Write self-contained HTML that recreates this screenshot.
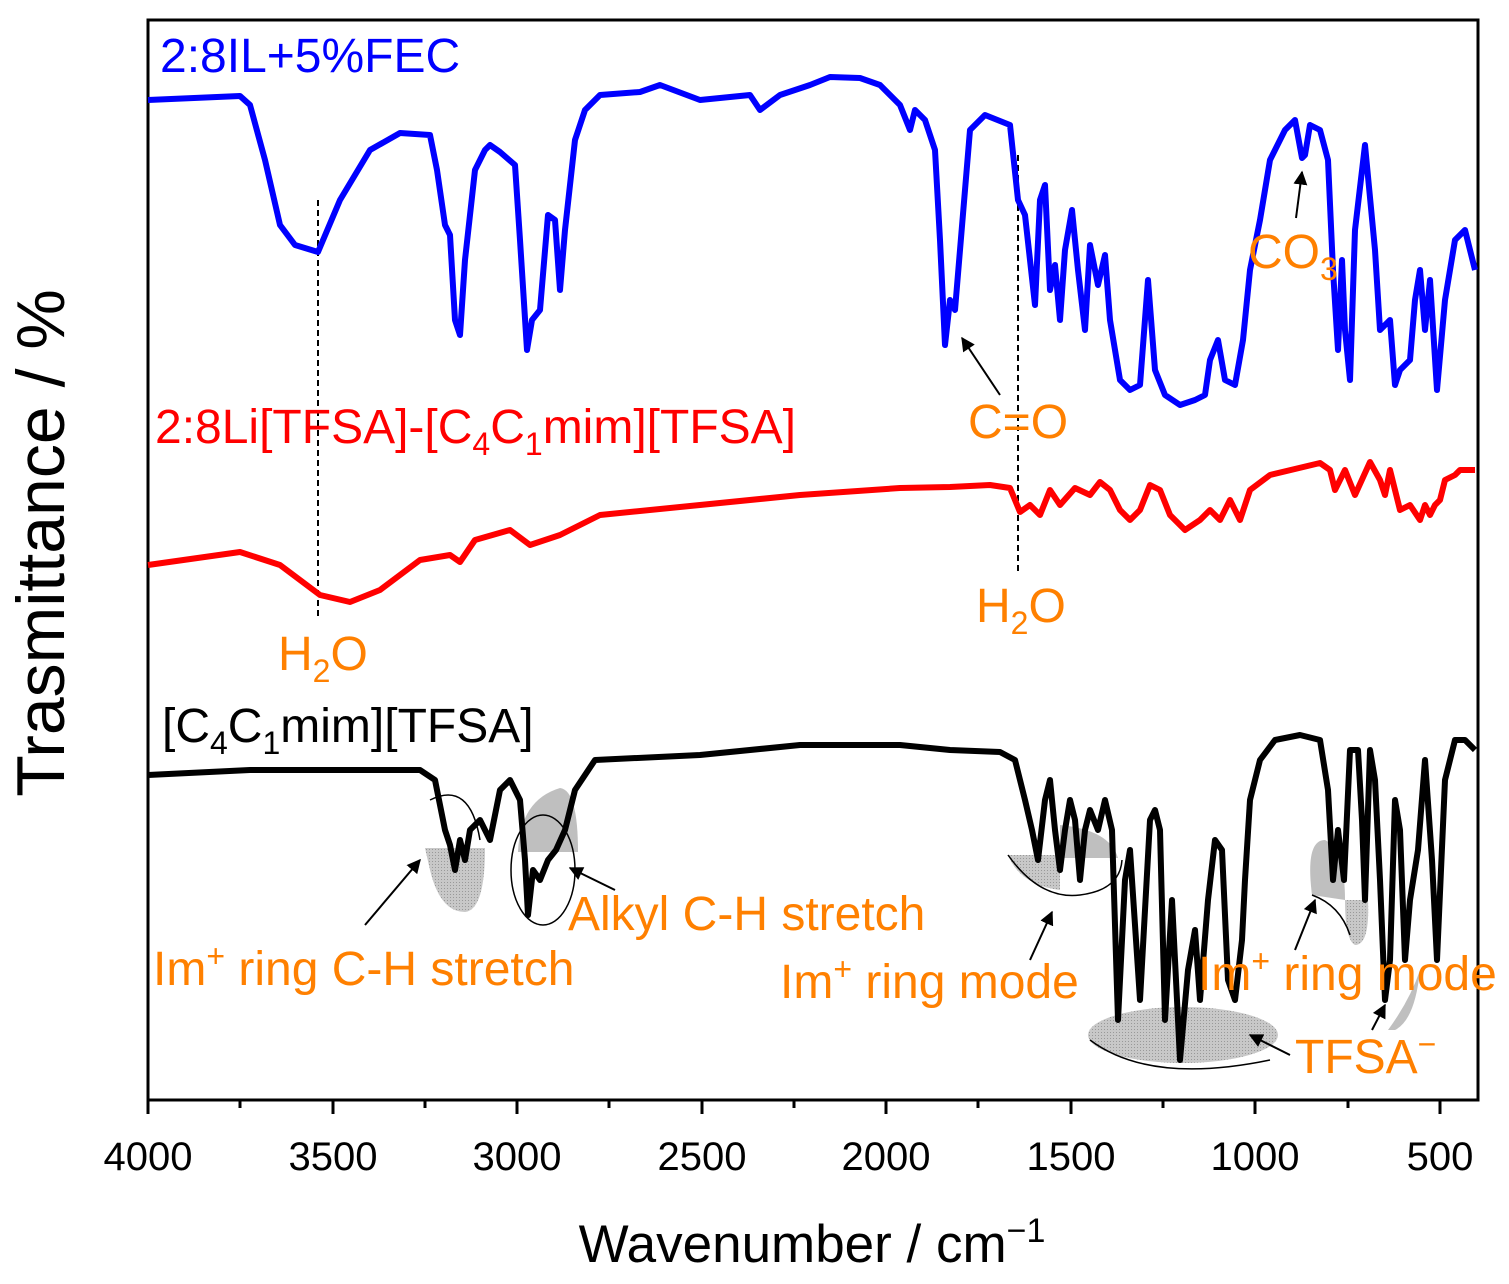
<!DOCTYPE html>
<html><head><meta charset="utf-8"><style>body{margin:0;background:#fff}svg{display:block}text{font-family:"Liberation Sans",Arial,sans-serif}</style></head><body>
<svg width="1509" height="1284" viewBox="0 0 1509 1284" xmlns="http://www.w3.org/2000/svg">
<defs><marker id="ar" viewBox="0 0 10 10" refX="9" refY="5" markerWidth="7" markerHeight="7" orient="auto"><path d="M0,0L10,5L0,10z" fill="#000"/></marker>
<pattern id="dt" width="3" height="3" patternUnits="userSpaceOnUse"><rect width="3" height="3" fill="#c8c8c8"/><rect width="1" height="1" fill="#999"/></pattern></defs>
<rect x="148" y="20" width="1330" height="1080" fill="none" stroke="#000" stroke-width="3"/>
<g stroke="#000" stroke-width="3">
<line x1="148" y1="1100" x2="148" y2="1114"/><line x1="333" y1="1100" x2="333" y2="1114"/><line x1="517" y1="1100" x2="517" y2="1114"/><line x1="702" y1="1100" x2="702" y2="1114"/><line x1="886" y1="1100" x2="886" y2="1114"/><line x1="1071" y1="1100" x2="1071" y2="1114"/><line x1="1255" y1="1100" x2="1255" y2="1114"/><line x1="1440" y1="1100" x2="1440" y2="1114"/>
<line x1="240" y1="1100" x2="240" y2="1108"/><line x1="425" y1="1100" x2="425" y2="1108"/><line x1="609" y1="1100" x2="609" y2="1108"/><line x1="794" y1="1100" x2="794" y2="1108"/><line x1="978" y1="1100" x2="978" y2="1108"/><line x1="1163" y1="1100" x2="1163" y2="1108"/><line x1="1348" y1="1100" x2="1348" y2="1108"/>
</g>
<g font-size="40" text-anchor="middle" fill="#000">
<text x="148" y="1170">4000</text><text x="333" y="1170">3500</text><text x="517" y="1170">3000</text><text x="702" y="1170">2500</text><text x="886" y="1170">2000</text><text x="1071" y="1170">1500</text><text x="1255" y="1170">1000</text><text x="1440" y="1170">500</text>
</g>
<text x="812" y="1262" font-size="53" text-anchor="middle">Wavenumber / cm<tspan dy="-20" font-size="34">−1</tspan></text>
<text transform="translate(64,543) rotate(-90)" font-size="68" text-anchor="middle">Trasmittance / %</text>
<line x1="318" y1="200" x2="318" y2="620" stroke="#000" stroke-width="2" stroke-dasharray="6,4"/>
<line x1="1018" y1="155" x2="1018" y2="575" stroke="#000" stroke-width="2" stroke-dasharray="6,4"/>
<path d="M425,848 L485,848 Q485,910 465,912 Q440,912 430,870 Z" fill="url(#dt)"/>
<path d="M430,800 Q470,780 480,840" fill="none" stroke="#000" stroke-width="1.5"/>
<path d="M518,852 Q520,800 560,788 Q578,790 578,852 Z" fill="#bfbfbf"/>
<ellipse cx="543" cy="870" rx="32" ry="55" fill="none" stroke="#000" stroke-width="1.5"/>
<path d="M1008,855 L1060,855 L1060,890 Q1020,885 1008,855Z" fill="url(#dt)"/>
<path d="M1060,858 L1060,825 Q1110,830 1118,858Z" fill="#bfbfbf"/>
<path d="M1008,855 Q1040,900 1080,895 Q1120,890 1122,860" fill="none" stroke="#000" stroke-width="1.5"/>
<path d="M1312,895 Q1305,840 1325,840 Q1345,850 1345,900Z" fill="#bfbfbf"/>
<path d="M1345,900 L1368,900 Q1370,945 1355,945 Q1345,940 1345,900Z" fill="url(#dt)"/>
<path d="M1312,895 Q1340,905 1350,935" fill="none" stroke="#000" stroke-width="1.5"/>
<ellipse cx="1183" cy="1035" rx="95" ry="28" fill="url(#dt)"/>
<path d="M1090,1040 Q1150,1085 1270,1060" fill="none" stroke="#000" stroke-width="1.5"/>
<path d="M1388,1030 Q1410,1000 1420,970 Q1415,1020 1395,1030Z" fill="#bfbfbf"/>
<polyline fill="none" stroke="#0000ff" stroke-width="6" stroke-linejoin="round" points="148,100 240,96 250,105 265,160 280,225 295,245 318,252 340,200 370,150 400,133 430,135 437,170 445,225 450,235 455,320 460,335 465,260 475,170 485,150 490,145 500,152 515,165 520,240 527,350 532,320 540,310 548,215 555,220 560,290 565,230 575,140 585,110 600,95 640,92 660,85 700,100 750,95 760,110 780,95 810,85 830,77 860,78 880,85 900,105 910,130 915,110 925,120 935,150 940,240 945,345 950,300 955,310 960,250 970,130 985,115 1010,125 1018,200 1025,215 1030,260 1035,305 1040,200 1045,185 1050,290 1055,265 1060,320 1065,250 1072,210 1078,270 1085,330 1090,245 1098,285 1105,255 1110,320 1120,380 1130,390 1140,385 1148,280 1155,370 1165,395 1180,405 1195,400 1205,395 1210,360 1218,340 1225,380 1235,385 1243,340 1250,270 1260,220 1270,160 1285,130 1295,120 1302,158 1305,155 1310,125 1320,130 1328,160 1333,270 1338,350 1342,260 1345,330 1350,380 1355,230 1365,145 1375,250 1380,330 1385,325 1390,320 1395,385 1400,370 1410,360 1415,300 1420,270 1425,330 1430,280 1437,390 1445,300 1455,240 1465,230 1475,270"/>
<polyline fill="none" stroke="#ff0000" stroke-width="6" stroke-linejoin="round" points="148,565 240,552 280,565 320,595 350,602 380,590 420,560 450,555 460,562 475,540 510,530 530,545 560,535 580,525 600,515 700,505 800,495 900,488 950,487 990,485 1010,488 1020,512 1030,505 1040,515 1050,490 1060,505 1075,488 1090,495 1100,482 1110,490 1120,510 1130,520 1140,510 1150,485 1160,490 1170,515 1185,530 1200,520 1210,510 1220,520 1230,500 1240,520 1250,490 1270,475 1320,463 1330,470 1335,490 1345,470 1355,495 1370,462 1380,480 1385,495 1390,470 1400,510 1410,505 1420,520 1425,505 1430,515 1435,505 1440,500 1445,480 1455,475 1460,470 1475,470"/>
<polyline fill="none" stroke="#000" stroke-width="6" stroke-linejoin="round" points="148,775 250,770 420,770 435,780 445,830 450,845 455,870 460,840 465,860 470,830 480,820 490,840 500,790 510,780 520,800 525,860 528,915 533,870 540,880 548,860 556,850 565,830 575,790 595,760 700,755 800,745 900,745 950,750 1000,752 1015,760 1025,800 1032,830 1038,860 1045,800 1050,780 1055,830 1060,870 1065,830 1070,800 1075,820 1080,880 1085,830 1090,810 1098,830 1105,800 1112,830 1118,1020 1125,880 1130,850 1140,1000 1150,820 1155,810 1160,830 1165,1020 1172,900 1180,1060 1188,970 1195,930 1200,1000 1208,900 1215,840 1222,850 1228,980 1235,1000 1242,940 1245,880 1250,800 1260,760 1275,740 1300,735 1320,740 1328,790 1333,880 1338,830 1344,880 1350,750 1358,750 1362,820 1365,900 1370,750 1375,780 1380,880 1385,1000 1390,960 1395,800 1400,830 1405,960 1410,900 1418,850 1425,760 1432,860 1437,960 1445,780 1455,740 1465,740 1475,750"/>
<g stroke="#000" stroke-width="2" marker-end="url(#ar)">
<line x1="1000" y1="395" x2="962" y2="338"/>
<line x1="1296" y1="218" x2="1302" y2="172"/>
<line x1="365" y1="925" x2="420" y2="860"/>
<line x1="615" y1="890" x2="570" y2="868"/>
<line x1="1030" y1="960" x2="1052" y2="912"/>
<line x1="1295" y1="950" x2="1315" y2="900"/>
<line x1="1290" y1="1055" x2="1250" y2="1035"/>
<line x1="1372" y1="1030" x2="1385" y2="1005"/>
</g>
<g font-size="48" fill="#ff8000">
<text x="278" y="670">H<tspan dy="12" font-size="32">2</tspan><tspan dy="-12">O</tspan></text>
<text x="976" y="622">H<tspan dy="12" font-size="32">2</tspan><tspan dy="-12">O</tspan></text>
<text x="968" y="438">C=O</text>
<text x="1248" y="268">CO<tspan dy="12" font-size="32">3</tspan></text>
<text x="153" y="985">Im<tspan dy="-18" font-size="32">+</tspan><tspan dy="18"> ring C-H stretch</tspan></text>
<text x="568" y="930">Alkyl C-H stretch</text>
<text x="780" y="998">Im<tspan dy="-18" font-size="32">+</tspan><tspan dy="18"> ring mode</tspan></text>
<text x="1198" y="990">Im<tspan dy="-18" font-size="32">+</tspan><tspan dy="18"> ring mode</tspan></text>
<text x="1295" y="1073">TFSA<tspan dy="-18" font-size="32">−</tspan></text>
</g>
<text x="160" y="72" font-size="48" fill="#0000ff">2:8IL+5%FEC</text>
<text x="155" y="443" font-size="48" fill="#ff0000">2:8Li[TFSA]-[C<tspan dy="12" font-size="32">4</tspan><tspan dy="-12">C</tspan><tspan dy="12" font-size="32">1</tspan><tspan dy="-12">mim][TFSA]</tspan></text>
<text x="162" y="742" font-size="48" fill="#000">[C<tspan dy="12" font-size="32">4</tspan><tspan dy="-12">C</tspan><tspan dy="12" font-size="32">1</tspan><tspan dy="-12">mim][TFSA]</tspan></text>
</svg>
</body></html>
